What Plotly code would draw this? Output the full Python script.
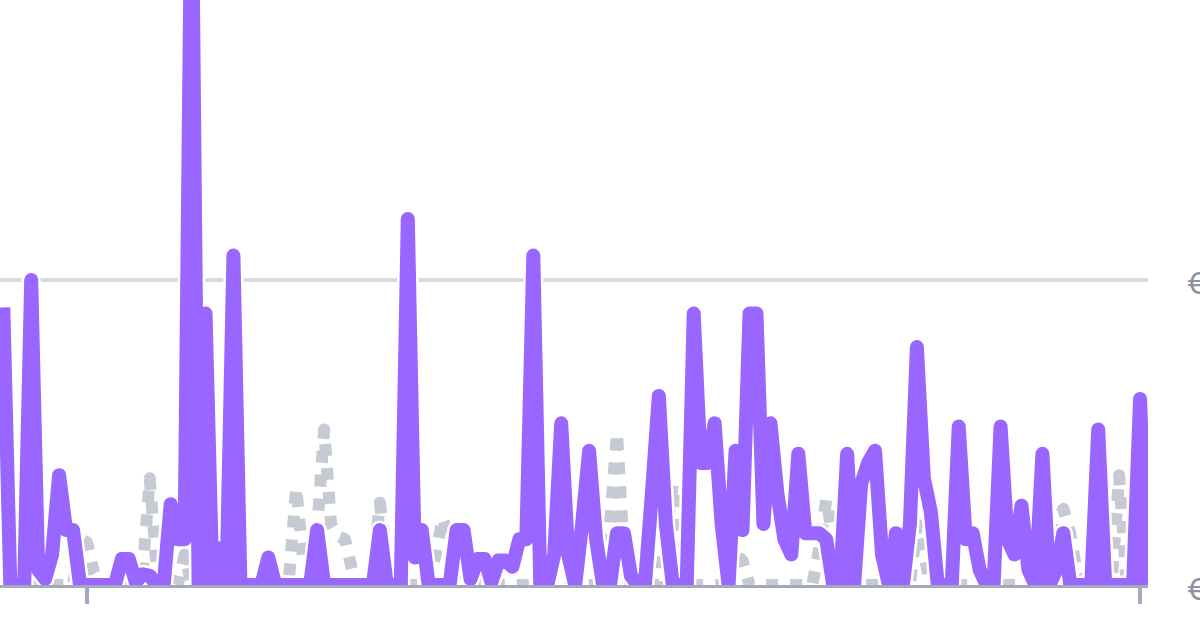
import plotly.graph_objects as go
import pandas as pd

# ---- data ----
start_date = "2022-12-20"

revenue = [
    91, 0, 0, 0, 100, 5, 2, 10, 36, 18,
    18, 0, 0, 0, 0, 0, 0, 8.5, 8.5, 1,
    3.5, 3, 0, 0, 26.5, 15, 15, 240, 0, 89,
    0, 12, 0, 108, 0, 0, 0, 0, 9, 0,
    0, 0, 0, 0, 0, 18, 0, 0, 0, 0,
    0, 0, 0, 0, 18, 0, 0, 0, 120, 9,
    18, 0, 0, 0, 0, 18, 18, 2, 8.5, 8.5,
    1, 8, 8, 6, 15, 15, 108, 0, 0, 10,
    53, 10, 0, 20, 44, 15, 0, 0, 17, 17,
    3, 0, 0, 30, 62, 20, 0, 0, 0, 89,
    40, 40, 53, 20, 0, 44, 18, 89, 89, 20,
    53, 30, 15, 10, 43, 17, 17, 17, 15, 0,
    0, 43, 0, 33, 40, 44, 10, 0, 17, 0,
    20, 78, 35, 24, 0, 0, 0, 52, 15, 17,
    5, 0, 0, 52, 15, 10, 26, 5, 0, 43,
    0, 5, 17, 0, 0, 0, 0, 51, 0, 0,
    0, 0, 0, 61, 0, 30,
]

previous = [
    0, 0, 0, 0, 0, 0, 0, 0, 0, 0,
    0, 15, 14, 4, 0, 0, 0, 0, 0, 0,
    5, 35, 5, 0, 0, 0, 10, 0, 0, 0,
    0, 0, 0, 0, 0, 0, 0, 0, 0, 0,
    0, 3, 32, 8, 10, 18, 51, 20, 16, 15,
    5, 0, 0, 5, 27, 8, 0, 0, 0, 0,
    0, 0, 10, 22, 15, 10, 0, 0, 0, 0,
    0, 0, 0, 0, 0, 0, 0, 0, 0, 0,
    0, 0, 0, 0, 0, 0, 5, 20, 50, 10,
    0, 0, 0, 0, 0, 15, 33, 5, 0, 0,
    0, 0, 0, 0, 0, 10, 8, 0, 0, 0,
    0, 0, 0, 0, 0, 0, 0, 12, 28, 15,
    5, 0, 0, 0, 0, 0, 0, 0, 0, 0,
    0, 20, 8, 0, 0, 0, 0, 0, 0, 0,
    0, 0, 0, 0, 0, 0, 0, 0, 0, 0,
    0, 20, 25, 17, 3, 0, 0, 0, 0, 3,
    36, 3, 0, 0, 0, 0,
]

x_tick_dates = ["2023-01-01", "2023-06-01"]
y_tick_values = [0, 100]
y_tick_labels = ["€0", "€100"]

# ---- figure ----
dates = pd.date_range(start_date, periods=len(revenue), freq="D")
d0 = pd.Timestamp(start_date)
x_range = [d0 - pd.Timedelta(days=0.473), d0 + pd.Timedelta(days=164.14)]

PURPLE = "#9966FF"
GRAY = "#C5CAD3"
LW = 14

fig = go.Figure()
fig.add_trace(go.Scatter(
    x=dates, y=previous, mode="lines",
    line=dict(color=GRAY, width=12, dash="dot"),
    hoverinfo="skip",
))
fig.add_trace(go.Scatter(
    x=dates, y=revenue, mode="lines",
    line=dict(color="#FFFFFF", width=LW + 5),
    hoverinfo="skip",
))
fig.add_trace(go.Scatter(
    x=dates, y=revenue, mode="lines",
    line=dict(color=PURPLE, width=LW),
))

fig.update_layout(
    width=1200, height=630,
    margin=dict(l=0, r=52, t=0, b=45, pad=0),
    paper_bgcolor="white", plot_bgcolor="white",
    showlegend=False,
    font=dict(family="Inter, Open Sans, sans-serif"),
    xaxis=dict(
        type="date", range=x_range,
        showgrid=False, zeroline=False,
        showline=True, linecolor="#A3A8BA", linewidth=3,
        ticks="outside", ticklen=16, tickwidth=3.5, tickcolor="#A3A8BA",
        tickvals=x_tick_dates, showticklabels=False,
        automargin=False, fixedrange=True,
    ),
    yaxis=dict(
        side="right", range=[0, 191.8],
        tickvals=y_tick_values, ticktext=y_tick_labels,
        showgrid=True, gridcolor="#D6DAE1", gridwidth=3.5,
        zeroline=False, showline=False, ticks="",
        ticklabelstandoff=38, ticklabelshift=4,
        tickfont=dict(size=30, color="#8C92A4", family="Inter, Open Sans, sans-serif"),
        automargin=False, fixedrange=True,
    ),
)

post = """
var s = document.createElement('style');
s.textContent = 'html, body { margin: 0 !important; padding: 0 !important; overflow: hidden; }' +
                '.scatterlayer .js-line { stroke-linejoin: round !important; }';
document.head.appendChild(s);
"""

fig.write_html("out.html", post_script=post, config={"displayModeBar": False})
